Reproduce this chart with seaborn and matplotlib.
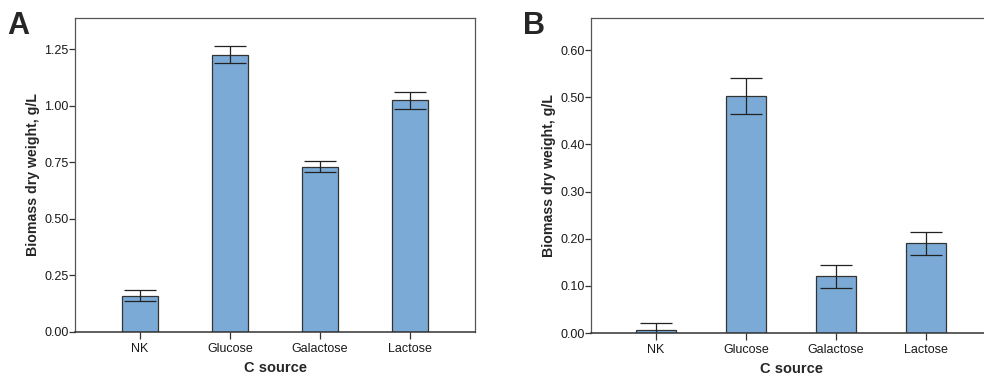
import numpy as np
import pandas as pd
import matplotlib
matplotlib.use("Agg")
import matplotlib.pyplot as plt
import seaborn as sns

# categories and values
sources = ["NK", "Glucose", "Galactose", "Lactose"]

biomass_a = [0.16, 1.225, 0.73, 1.025]
low_a = [0.135, 1.19, 0.705, 0.985]
high_a = [0.185, 1.265, 0.755, 1.06]
ticks_a = [0.0, 0.25, 0.5, 0.75, 1.0, 1.25]

biomass_b = [0.007, 0.503, 0.12, 0.19]
low_b = [-0.007, 0.465, 0.095, 0.165]
high_b = [0.021, 0.541, 0.145, 0.215]
ticks_b = [0.0, 0.1, 0.2, 0.3, 0.4, 0.5, 0.6]

sns.set_style("white")
plt.rcParams["font.family"] = ["Liberation Sans", "DejaVu Sans"]

BAR = "#7baad6"
EDGE = "#333333"
FRAME = "#555555"

fig = plt.figure(figsize=(9.84, 3.76), dpi=100)
W, H = 984, 376


def panel(rect, vals, low, high, ticks, ymax, bar_w, letter, letter_xy):
    l, t, r, b = rect
    ax = fig.add_axes([l / W, (H - b) / H, (r - l) / W, (b - t) / H])
    df = pd.DataFrame({"source": sources, "biomass": vals})
    sns.barplot(data=df, x="source", y="biomass", order=sources, color=BAR,
                saturation=1, width=bar_w, edgecolor=EDGE, linewidth=0.9,
                errorbar=None, ax=ax)
    v = np.array(vals)
    yerr = [v - np.array(low), np.array(high) - v]
    ax.errorbar(np.arange(len(sources)), v, yerr=yerr, fmt="none",
                ecolor="#222222", elinewidth=0.9, capsize=11.5, capthick=0.9)
    ax.set_xlim(-0.722, 3.722)
    ax.set_ylim(0, ymax)
    ax.set_yticks(ticks)
    ax.set_yticklabels([f"{t:.2f}" for t in ticks])
    ax.tick_params(axis="both", which="major", direction="out", length=4,
                   width=0.9, color="#333333", labelsize=9,
                   labelcolor="#1a1a1a", pad=0.5, left=True, bottom=True)
    ax.tick_params(axis="x", length=5, pad=3)
    for s in ax.spines.values():
        s.set_color(FRAME)
        s.set_linewidth(0.9)
    ax.spines["bottom"].set_color("#333333")
    ax.spines["bottom"].set_linewidth(1.1)
    ax.set_ylabel("Biomass dry weight, g/L", fontsize=10.2, fontweight="bold",
                  labelpad=3)
    ax.set_xlabel("C source", fontsize=10.5, fontweight="bold", labelpad=4.5)
    fig.text(letter_xy[0] / W, 1 - letter_xy[1] / H, letter, fontsize=22,
             fontweight="bold", ha="left", va="top")
    return ax


panel((75, 18, 475, 332), biomass_a, low_a, high_a, ticks_a, 1.387, 0.39,
      "A", (7, 11))
panel((591, 18, 991, 333), biomass_b, low_b, high_b, ticks_b, 0.668, 0.455,
      "B", (523, 11))

fig.savefig("out.png", dpi=100)
